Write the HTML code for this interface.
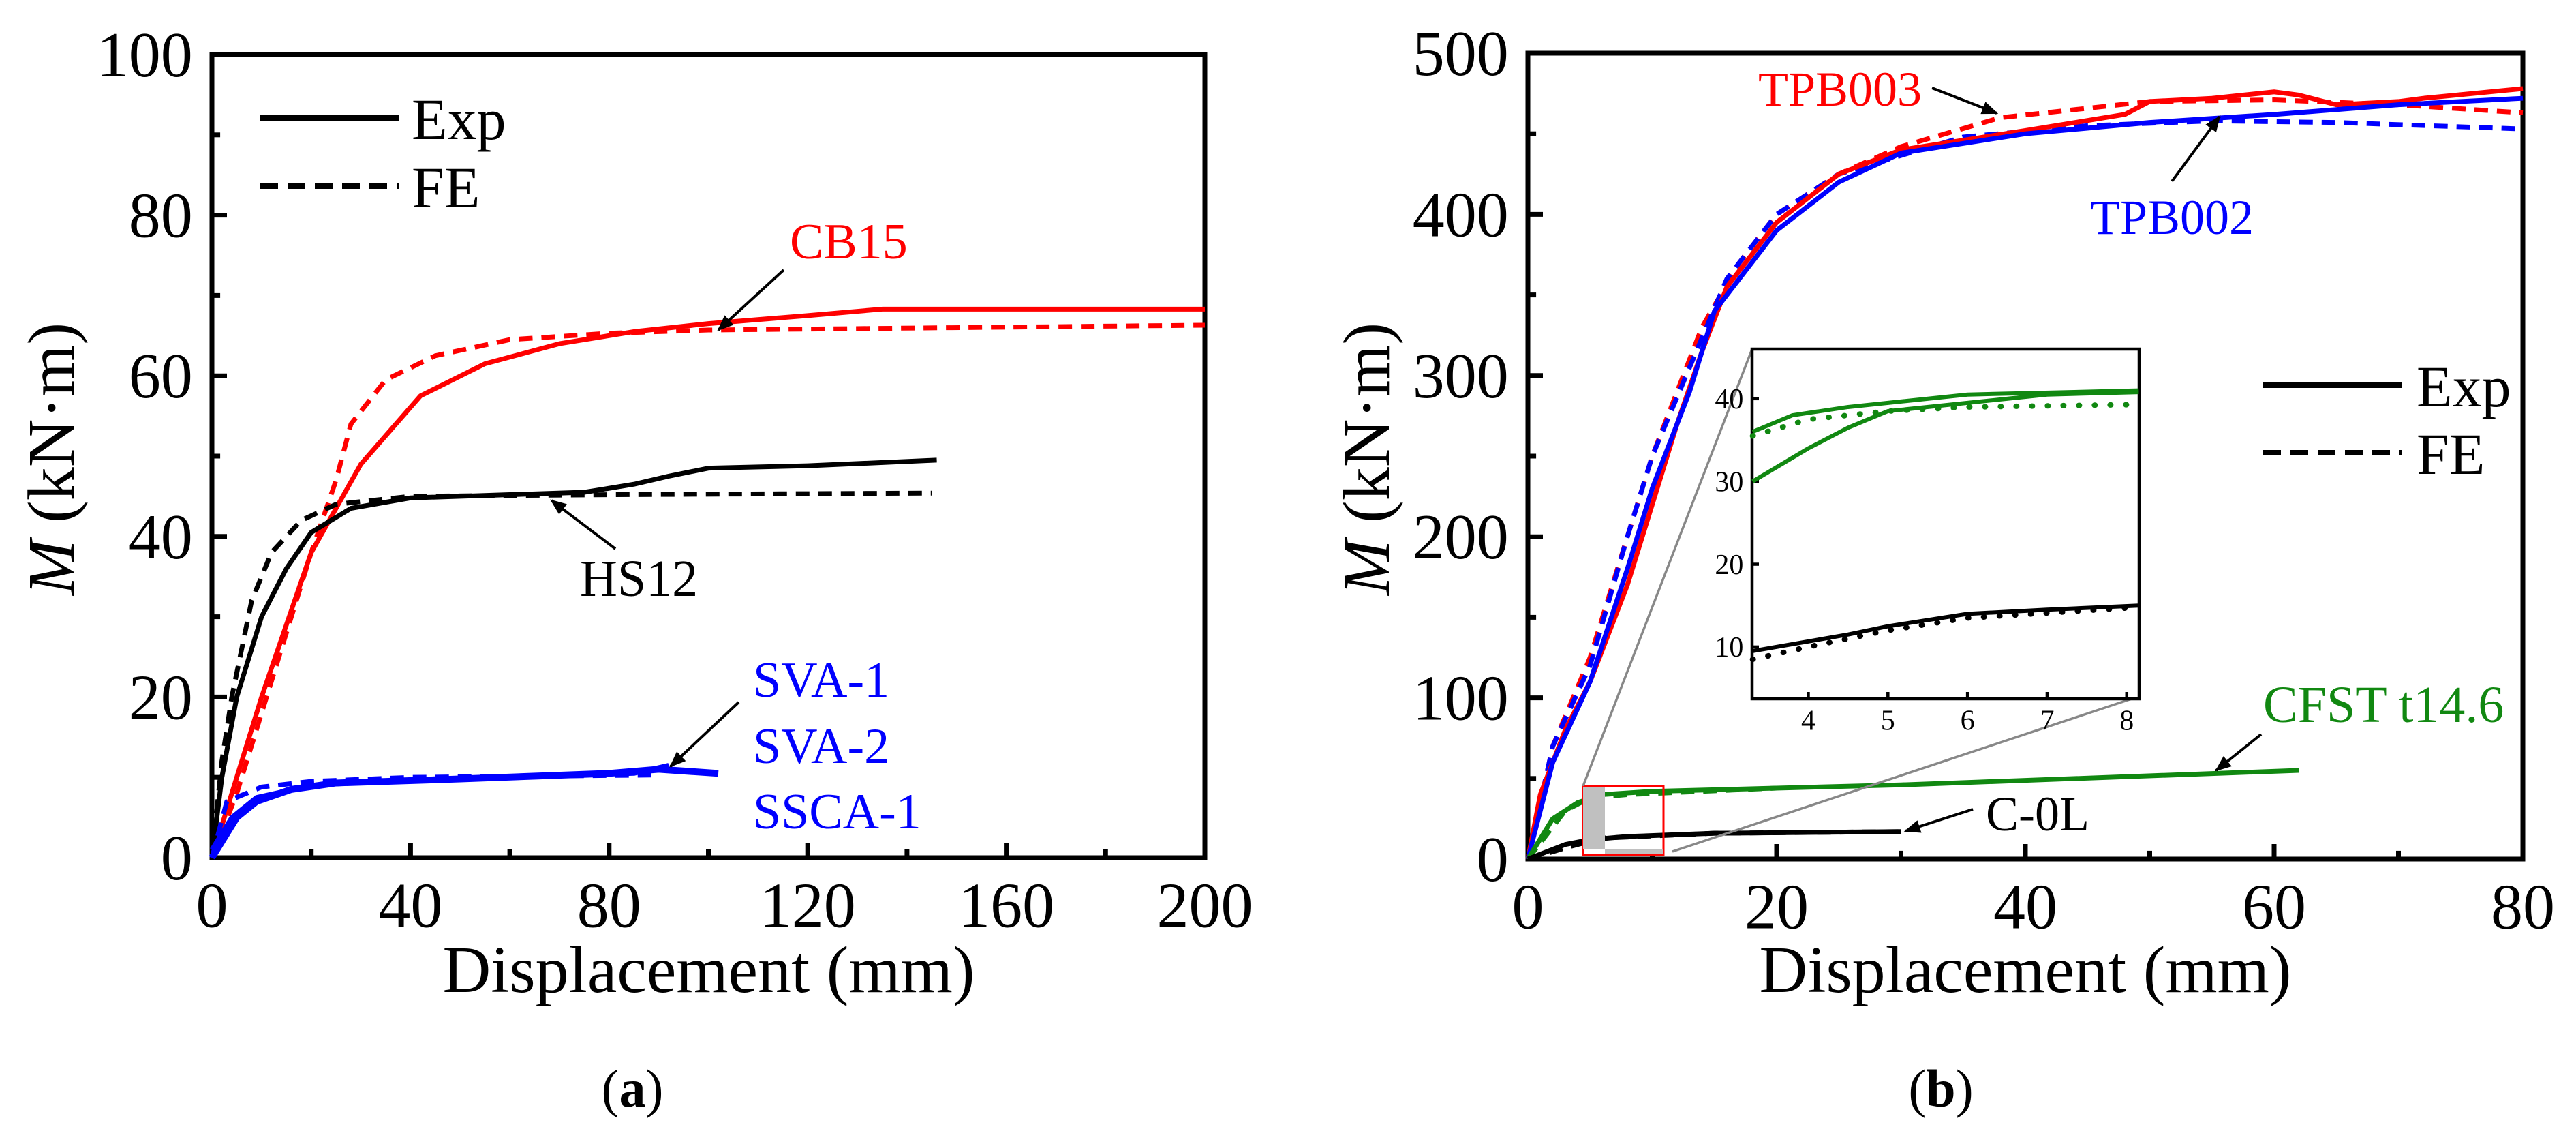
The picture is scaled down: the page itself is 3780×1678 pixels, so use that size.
<!DOCTYPE html>
<html><head><meta charset="utf-8"><style>html,body{margin:0;padding:0;background:#fff}svg{display:block}text{font-family:"Liberation Serif","Times New Roman",serif}</style></head>
<body>
<svg id="fig" width="3780" height="1678" viewBox="0 0 3780 1678" font-family="Liberation Serif, serif" xmlns="http://www.w3.org/2000/svg">
<defs><marker id="ah" viewBox="0 0 10 10" refX="9" refY="5" markerWidth="6" markerHeight="6" orient="auto"><path d="M0,1 L10,5 L0,9 z" fill="#000"/></marker></defs>
<g id="pa"></g>
<g id="pb"></g>
</svg>
<script>
// ---- chart (a) data ----
const aCB15ExpX=[0,5,10,20,30,42,55,70,85,100,120,135,200];
const aCB15ExpY=[0,10,20,38,49,57.5,61.5,64,65.5,66.5,67.5,68.3,68.3];
const aCB15FEX=[0,5,12,20,25,28,35,45,60,80,100,200];
const aCB15FEY=[0,8,22,38,47,54,59.5,62.5,64.5,65.3,65.7,66.3];
const aHS12ExpX=[0,2,5,10,15,20,28,40,60,75,85,92,100,120,146];
const aHS12ExpY=[0,10,20,30,36,40.5,43.5,44.8,45.2,45.5,46.5,47.5,48.5,48.8,49.5];
const aHS12FEX=[0,2,4,8,12,18,25,40,80,145];
const aHS12FEY=[0,12,20,32,38,42,44,45,45.2,45.4];
const aSVA1X=[0,5,9,16,25,50,80,90,102];
const aSVA1Y=[0,5,7,8.5,9.3,9.8,10.5,11,10.5];
const aSVA2X=[0,4,9,20,40,85,92];
const aSVA2Y=[1,5,7.5,9,9.7,10.5,11.5];
const aSVAFEX=[0,3,10,20,40,90];
const aSVAFEY=[0,7,8.8,9.5,10,10.3];
const aXTicks=[0,40,80,120,160,200];
const aYTicks=[0,20,40,60,80,100];
// ---- chart (b) data ----
const b3ExpX=[0,1,3,5,8,10,12,14,16,20,25,30,40,48,50,55,60,62,65,70,72,80];
const b3ExpY=[0,40,80,110,170,220,270,315,355,395,425,440,452,462,470,472,476,474,468,470,472,478];
const b3FEX=[0,2,5,8,10,12,14,17,20,25,30,38,50,60,70,80];
const b3FEY=[0,70,125,200,250,290,330,370,400,425,442,460,470,471,468,463];
const b2ExpX=[0,2,5,8,10,13,15,17,20,25,30,40,50,60,70,80];
const b2ExpY=[0,60,110,180,230,290,340,360,390,420,438,450,457,462,468,472];
const b2FEX=[0,2,5,8,10,13,16,20,25,35,45,55,65,80];
const b2FEY=[0,70,120,200,250,305,360,400,425,448,455,458,457,453];
const bCFSTExpX=[0,2,4,6,10,30,62];
const bCFSTExpY=[0,25,35,40,42,46,55];
const bCFSTFEX=[0,3,5,8,20];
const bCFSTFEY=[0,30,38,40,44];
const bC0LExpX=[0,3,5,8,15,30];
const bC0LExpY=[0,9,12,14,16,17];
const bC0LFEX=[0,3.5,6,15,30];
const bC0LFEY=[0,8,13,16,17];
const bXTicks=[0,20,40,60,80];
const bYTicks=[0,100,200,300,400,500];
// ---- inset data ----
const iG1X=[3.3,3.8,4.5,6,8.15];
const iG1Y=[36,38,39,40.5,41];
const iG2X=[3.3,4,4.5,5,6,7,8.15];
const iG2Y=[30,34,36.5,38.5,39.5,40.5,40.8];
const iGFX=[3.3,4,5,6,8.15];
const iGFY=[35.5,37.5,38.5,39,39.3];
const iKX=[3.3,4.5,5,6,7,8.15];
const iKY=[9.5,11.5,12.5,14,14.5,15];
const iKFX=[3.3,4,5,6,8.15];
const iKFY=[8.5,10,12,13.5,14.8];
const iXTicks=[4,5,6,7,8];
const iYTicks=[10,20,30,40];

const NS="http://www.w3.org/2000/svg";
const FF='Liberation Serif, serif';
function mk(parent,tag,attrs){const e=document.createElementNS(NS,tag);for(const k in attrs)e.setAttribute(k,attrs[k]);parent.appendChild(e);return e;}
function scale(d0,d1,r0,r1){return v=>r0+(v-d0)/(d1-d0)*(r1-r0);}

function axes(g,sx,sy,x0,x1,y0,y1,xt,yt,xminor,yminor,fs,tl,sw){
  const b=mk(g,'rect',{x:x0,y:y1,width:x1-x0,height:y0-y1,fill:'none',stroke:'#000','stroke-width':sw});
  
  
  xt.forEach(v=>{mk(g,'line',{x1:sx(v),x2:sx(v),y1:y0,y2:y0-tl,stroke:'#000','stroke-width':sw});
    const t=mk(g,'text',{x:sx(v),y:y0+fs*1.08,'font-size':fs,'text-anchor':'middle','font-family':FF});t.textContent=v;
    
    });
  xminor.forEach(v=>mk(g,'line',{x1:sx(v),x2:sx(v),y1:y0,y2:y0-tl*0.55,stroke:'#000','stroke-width':sw}));
  yt.forEach(v=>{mk(g,'line',{x1:x0,x2:x0+tl,y1:sy(v),y2:sy(v),stroke:'#000','stroke-width':sw});
    const t=mk(g,'text',{x:x0-fs*0.3,y:sy(v)+fs*0.34,'font-size':fs,'text-anchor':'end','font-family':FF});t.textContent=v;
    
    });
  yminor.forEach(v=>mk(g,'line',{x1:x0,x2:x0+tl*0.55,y1:sy(v),y2:sy(v),stroke:'#000','stroke-width':sw}));
}
function line(g,sx,sy,xs,ys,color,dash,w,name){
  const p=mk(g,'polyline',{points:xs.map((x,i)=>sx(x)+','+sy(ys[i])).join(' '),fill:'none',stroke:color,'stroke-width':w,'stroke-linejoin':'round','stroke-linecap':dash&&dash.startsWith('1 ')?'round':'butt','stroke-dasharray':dash||'none'});
  
  
}
function txt(g,x,y,s,fs,color,name,anchor){const t=mk(g,'text',{x:x,y:y,'font-size':fs,fill:color||'#000','text-anchor':anchor||'start','font-family':FF});t.textContent=s;
  
  return t;}
function arrow(g,x1,y1,x2,y2){const l=mk(g,'line',{x1:x1,y1:y1,x2:x2,y2:y2,stroke:'#000','stroke-width':4,'marker-end':'url(#ah)'});
  
  }
function ylabel(g,x,y,fs){const t=mk(g,'text',{transform:`translate(${x},${y}) rotate(-90)`,'font-size':fs,'text-anchor':'middle','font-family':FF});
  t.innerHTML='<tspan font-style="italic">M</tspan> (kN·m)';
  
  }
function legend(g,lx0,lx1,tx,y1,y2,fs){
  const a=mk(g,'line',{x1:lx0,x2:lx1,y1:y1,y2:y1,stroke:'#000','stroke-width':8});
  
  
  txt(g,tx,y1+fs*0.36,'Exp',fs,'#000','legend-exp');
  const b=mk(g,'line',{x1:lx0,x2:lx1,y1:y2,y2:y2,stroke:'#000','stroke-width':8,'stroke-dasharray':'26 14'});
  
  
  txt(g,tx,y2+fs*0.36,'FE',fs,'#000','legend-fe');
}

// ===== chart a =====
(function(){
const g=document.getElementById('pa');
const X0=311,X1=1768,Y0=1258,Y1=80;
const sx=scale(0,200,X0,X1), sy=scale(0,100,Y0,Y1);
axes(g,sx,sy,X0,X1,Y0,Y1,aXTicks,aYTicks,[20,60,100,140,180],[10,30,50,70,90],94,22,7);
const W=7;
line(g,sx,sy,aCB15FEX,aCB15FEY,'#ff0000','20 13',W,'cb15-fe-line');
line(g,sx,sy,aCB15ExpX,aCB15ExpY,'#ff0000','',W,'cb15-exp-line');
line(g,sx,sy,aHS12FEX,aHS12FEY,'#000','20 13',W,'hs12-fe-line');
line(g,sx,sy,aHS12ExpX,aHS12ExpY,'#000','',W,'hs12-exp-line');
line(g,sx,sy,aSVAFEX,aSVAFEY,'#0000ff','20 13',W,'sva-fe-line');
line(g,sx,sy,aSVA1X,aSVA1Y,'#0000ff','',W+3,'sva1-exp-line');
line(g,sx,sy,aSVA2X,aSVA2Y,'#0000ff','',W,'sva2-exp-line');
legend(g,382,585,604,173,273,86);
txt(g,1159,379,'CB15',74,'#ff0000','label-cb15');
arrow(g,1150,396,1054,484);
txt(g,851,874,'HS12',76,'#000','label-hs12');
arrow(g,903,805,809,734);
txt(g,1105,1022,'SVA-1',74,'#0000ff','label-sva1');
txt(g,1105,1119,'SVA-2',74,'#0000ff','label-sva2');
txt(g,1105,1215,'SSCA-1',74,'#0000ff','label-ssca1');
arrow(g,1084,1030,984,1124);
txt(g,1040,1455,'Displacement (mm)',98,'#000','x-axis-title','middle');
ylabel(g,108,673,98);
const c=txt(g,928,1623,'',78,'#000','panel-label-a','middle');c.innerHTML='(<tspan font-weight="bold">a</tspan>)';
})();

// ===== chart b =====
(function(){
const g=document.getElementById('pb');
const X0=2242,X1=3702,Y0=1260,Y1=78;
const sx=scale(0,80,X0,X1), sy=scale(0,500,Y0,Y1);
axes(g,sx,sy,X0,X1,Y0,Y1,bXTicks,bYTicks,[10,30,50,70],[50,150,250,350,450],94,22,7);
const W=7;
line(g,sx,sy,b3FEX,b3FEY,'#ff0000','20 13',W,'tpb003-fe-line');
line(g,sx,sy,b2FEX,b2FEY,'#0000ff','20 13',W,'tpb002-fe-line');
line(g,sx,sy,b3ExpX,b3ExpY,'#ff0000','',W,'tpb003-exp-line');
line(g,sx,sy,b2ExpX,b2ExpY,'#0000ff','',W,'tpb002-exp-line');
line(g,sx,sy,bCFSTFEX,bCFSTFEY,'#118811','20 13',W,'cfst-fe-line');
line(g,sx,sy,bCFSTExpX,bCFSTExpY,'#118811','',W,'cfst-exp-line');
line(g,sx,sy,bC0LFEX,bC0LFEY,'#000','20 13',W,'c0l-fe-line');
line(g,sx,sy,bC0LExpX,bC0LExpY,'#000','',W,'c0l-exp-line');
// zoom region
const zr=mk(g,'rect',{x:2323,y:1153,width:118,height:101,fill:'none',stroke:'#ff0000','stroke-width':3});


mk(g,'rect',{x:2323,y:1155,width:32,height:90,fill:'#c0c0c0'});
mk(g,'line',{x1:2355,x2:2441,y1:1249,y2:1249,stroke:'#c0c0c0','stroke-width':8});
// inset
const IX0=2571,IX1=3139,IY0=1025,IY1=512;
mk(g,'line',{x1:2323,y1:1153,x2:IX0,y2:IY1,stroke:'#888','stroke-width':3.5});
mk(g,'line',{x1:2454,y1:1249,x2:3128,y2:IY0,stroke:'#888','stroke-width':3.5});
const ig=mk(g,'g',{});


mk(ig,'rect',{x:IX0,y:IY1,width:IX1-IX0,height:IY0-IY1,fill:'#fff'});
const ix=scale(3.294,8.156,IX0,IX1), iy=scale(3.73,46,IY0,IY1);
axes(ig,ix,iy,IX0,IX1,IY0,IY1,iXTicks,iYTicks,[],[],42,10,4.5);
line(ig,ix,iy,iGFX,iGFY,'#118811','1 22',8,'inset-cfst-fe-line');
line(ig,ix,iy,iG1X,iG1Y,'#118811','',6,'inset-cfst-exp-line-1');
line(ig,ix,iy,iG2X,iG2Y,'#118811','',6,'inset-cfst-exp-line-2');
line(ig,ix,iy,iKFX,iKFY,'#000','1 22',8,'inset-c0l-fe-line');
line(ig,ix,iy,iKX,iKY,'#000','',6,'inset-c0l-exp-line');
legend(g,3321,3525,3546,565,664,86);
txt(g,2580,155,'TPB003',72,'#ff0000','label-tpb003');
arrow(g,2835,129,2930,166);
txt(g,3067,343,'TPB002',72,'#0000ff','label-tpb002');
arrow(g,3187,266,3257,171);
txt(g,3321,1059,'CFST t14.6',76,'#118811','label-cfst');
arrow(g,3318,1077,3252,1130);
txt(g,2914,1218,'C-0L',72,'#000','label-c0l');
arrow(g,2895,1187,2796,1219);
txt(g,2972,1455,'Displacement (mm)',98,'#000','x-axis-title','middle');
ylabel(g,2038,673,98);
const c=txt(g,2848,1623,'',78,'#000','panel-label-b','middle');c.innerHTML='(<tspan font-weight="bold">b</tspan>)';
})();
</script>
</body></html>
